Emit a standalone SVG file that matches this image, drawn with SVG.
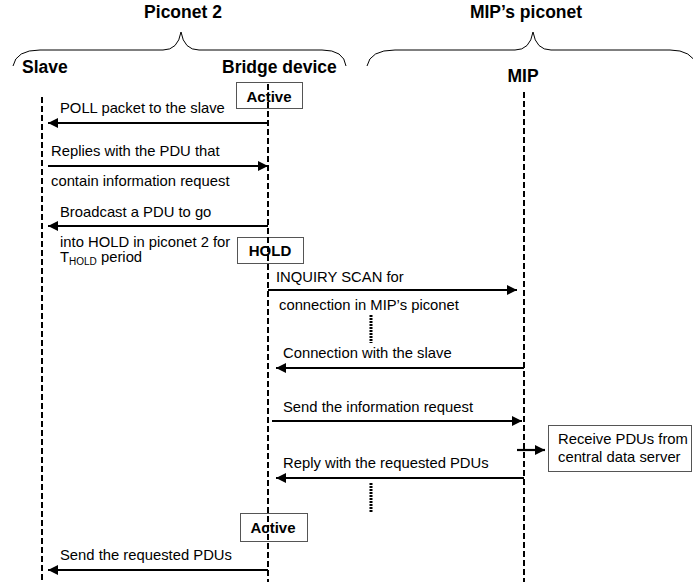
<svg xmlns="http://www.w3.org/2000/svg" width="693" height="582" viewBox="0 0 693 582">
<style>
  .t{font-family:"Liberation Sans",Arial,sans-serif;font-size:14.8px;fill:#000}
  .h{font-family:"Liberation Sans",Arial,sans-serif;font-size:17.5px;font-weight:bold;fill:#000}
  .b{font-family:"Liberation Sans",Arial,sans-serif;font-size:15px;font-weight:bold;fill:#000}
  .sub{font-size:10px}
  .life{stroke:#000;stroke-width:2;stroke-dasharray:6,3;fill:none}
  .brace{stroke:#000;stroke-width:1;fill:none}
  .box{fill:#fff;stroke:#555;stroke-width:1}
  .msg{stroke:#000;stroke-width:2.2;fill:none;marker-end:url(#ah)}
  .dots{stroke:#000;stroke-width:3;stroke-dasharray:2,1;fill:none}
</style>
<defs>
  <marker id="ah" viewBox="0 0 10 10" refX="10" refY="5" markerWidth="10" markerHeight="11" markerUnits="userSpaceOnUse" orient="auto">
    <path d="M0,0 L10,5 L0,10 z" fill="#000"/>
  </marker>
</defs>
<rect width="693" height="582" fill="#fff"/>

<g id="headers">
  <text class="h" x="183" y="18" text-anchor="middle">Piconet 2</text>
  <path class="brace" d="M13,66 Q16,50 40,50 L163,50 Q178,50 181,32 Q184,50 199,50 L322,50 Q344,50 346,66"/>
  <text class="h" x="526" y="18" text-anchor="middle">MIP’s piconet</text>
  <path class="brace" d="M367,66 Q370,50 395,50 L515,50 Q530,50 533,32 Q536,50 551,50 L670,50 Q692,50 697,66"/>
</g>

<g id="slave">
  <text class="h" x="22" y="73">Slave</text>
</g>
<g id="bridge">
  <text class="h" x="222" y="73">Bridge device</text>
</g>
<g id="mip">
  <text class="h" x="523" y="82" text-anchor="middle">MIP</text>
</g>

<g id="state-active1">
  <rect class="box" x="236.5" y="82.5" width="66" height="26"/>
  <text class="b" x="269" y="102" text-anchor="middle">Active</text>
</g>
<g id="state-hold">
  <rect class="box" x="237.5" y="237.5" width="66" height="26"/>
  <text class="b" x="270" y="256" text-anchor="middle">HOLD</text>
</g>
<g id="state-active2">
  <rect class="box" x="240.5" y="513.5" width="67" height="28"/>
  <text class="b" x="273" y="533" text-anchor="middle">Active</text>
</g>
<g id="server-box">
  <rect class="box" x="548.5" y="425.5" width="143" height="46"/>
  <text class="t" x="558" y="444">Receive PDUs from</text>
  <text class="t" x="558" y="462">central data server</text>
</g>

<g id="lifelines">
  <line class="life" x1="42" y1="97" x2="42" y2="582"/>
  <line class="life" x1="268" y1="84" x2="268" y2="582"/>
  <line class="life" x1="524" y1="92" x2="524" y2="582"/>
</g>

<g id="connectors">
  <line class="msg" x1="268" y1="123" x2="48" y2="123"/>
  <line class="msg" x1="48" y1="166" x2="268" y2="166"/>
  <line class="msg" x1="268" y1="226" x2="48" y2="226"/>
  <line class="msg" x1="268" y1="290" x2="517" y2="290"/>
  <line class="msg" x1="524" y1="368" x2="276" y2="368"/>
  <line class="msg" x1="272" y1="421" x2="522" y2="421"/>
  <line class="msg" x1="517" y1="450" x2="545" y2="450"/>
  <line class="msg" x1="524" y1="478" x2="276" y2="478"/>
  <line class="msg" x1="268" y1="570" x2="48" y2="570"/>
  <line class="dots" x1="371" y1="315" x2="371" y2="343"/>
  <line class="dots" x1="371" y1="483" x2="371" y2="512"/>
</g>

<g id="labels">
  <text class="t" x="60" y="113">POLL packet to the slave</text>
  <text class="t" x="51" y="156">Replies with the PDU that</text>
  <text class="t" x="51" y="186">contain information request</text>
  <text class="t" x="60" y="217">Broadcast a PDU to go</text>
  <text class="t" x="60" y="247">into HOLD in piconet 2 for</text>
  <text class="t" x="60" y="262">T<tspan class="sub" dy="3">HOLD</tspan><tspan dy="-3"> period</tspan></text>
  <text class="t" x="276" y="282">INQUIRY SCAN for</text>
  <text class="t" x="279" y="310">connection in MIP’s piconet</text>
  <text class="t" x="283" y="358">Connection with the slave</text>
  <text class="t" x="283" y="412">Send the information request</text>
  <text class="t" x="283" y="468">Reply with the requested PDUs</text>
  <text class="t" x="60" y="560">Send the requested PDUs</text>
</g>
</svg>
